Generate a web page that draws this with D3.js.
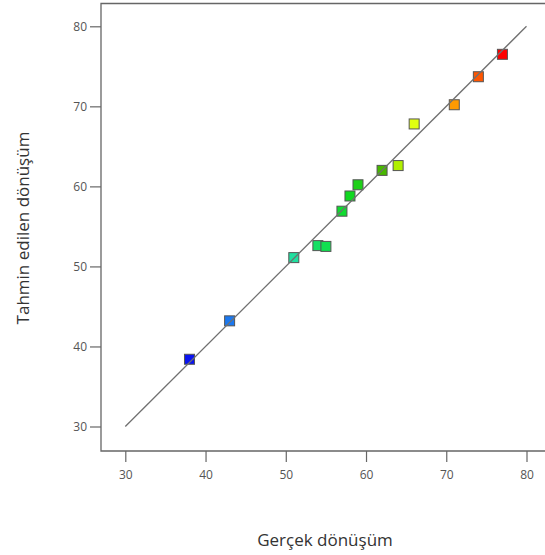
<!DOCTYPE html>
<html><head><meta charset="utf-8">
<script src="https://cdn.jsdelivr.net/npm/d3@7"></script>
<style>
body{margin:0;background:#fff;}
svg{display:block;font-family:"Open Sans",sans-serif;}
</style></head>
<body><svg id="c" width="545" height="555"></svg>
<script>
const actual    = [38, 43, 51, 54, 55, 57, 58, 59, 62, 64, 66, 71, 74, 77];
const predicted = [38.4, 43.2, 51.1, 52.6, 52.5, 56.9, 58.8, 60.2, 62.0, 62.6, 67.8, 70.2, 73.7, 76.5];
const xTicks = [30, 40, 50, 60, 70, 80];
const yTicks = [30, 40, 50, 60, 70, 80];
const colorStops = [38, 43, 51, 55, 58, 62, 64, 66, 71, 74, 77];
const colorVals  = ["#0a14f0", "#1a78f0", "#20e0a0", "#10e050", "#10d820", "#48b800", "#b0f000", "#e0ff10", "#ff9a00", "#ff5500", "#ff0000"];
const xTitle = "Gerçek dönüşüm";
const yTitle = "Tahmin edilen dönüşüm";

const svg = d3.select("#c");
const x = d3.scaleLinear().domain([30, 80]).range([125.3, 526.5]);
const y = d3.scaleLinear().domain([30, 80]).range([426.5, 26.3]);
const color = d3.scaleLinear().domain(colorStops).range(colorVals);

const L = 101, T = 3.5, B = 451, R = 547;
svg.append("path")
  .attr("d", `M${R},${T}H${L}V${B}H${R}`)
  .attr("fill", "none").attr("stroke", "#666").attr("stroke-width", 1.3);

const ya = svg.append("g").attr("transform", `translate(${L},0)`)
  .call(d3.axisLeft(y).tickValues(yTicks).tickSize(11).tickPadding(3).tickFormat(d3.format("d")));
ya.select(".domain").remove();
ya.selectAll("line").attr("stroke", "#666").attr("stroke-width", 1.2);
ya.selectAll("text").attr("fill", "#555").style("font-size", "12px").style("font-family", "Open Sans");

const xa = svg.append("g").attr("transform", `translate(0,${B})`)
  .call(d3.axisBottom(x).tickValues(xTicks).tickSize(11).tickPadding(8).tickFormat(d3.format("d")));
xa.select(".domain").remove();
xa.selectAll("line").attr("stroke", "#666").attr("stroke-width", 1.2);
xa.selectAll("text").attr("fill", "#555").style("font-size", "12px").style("font-family", "Open Sans");

const s = 10;
svg.append("g").selectAll("rect").data(actual.map((a, i) => ({a, p: predicted[i]})))
  .join("rect")
  .attr("x", d => x(d.a) - s / 2).attr("y", d => y(d.p) - s / 2)
  .attr("width", s).attr("height", s)
  .attr("fill", d => color(d.a))
  .attr("stroke", "#555").attr("stroke-width", 1);

// diagonal drawn over the points
svg.append("line")
  .attr("x1", x(30)).attr("y1", y(30)).attr("x2", x(80)).attr("y2", y(80))
  .attr("stroke", "#707070").attr("stroke-width", 1.3);

svg.append("text").attr("x", 325).attr("y", 546).attr("text-anchor", "middle")
  .attr("fill", "#333").style("font-size", "17px").text(xTitle);
svg.append("text").attr("transform", "translate(29,228) rotate(-90)").attr("text-anchor", "middle")
  .attr("fill", "#333").style("font-size", "17px").text(yTitle);
</script></body></html>
